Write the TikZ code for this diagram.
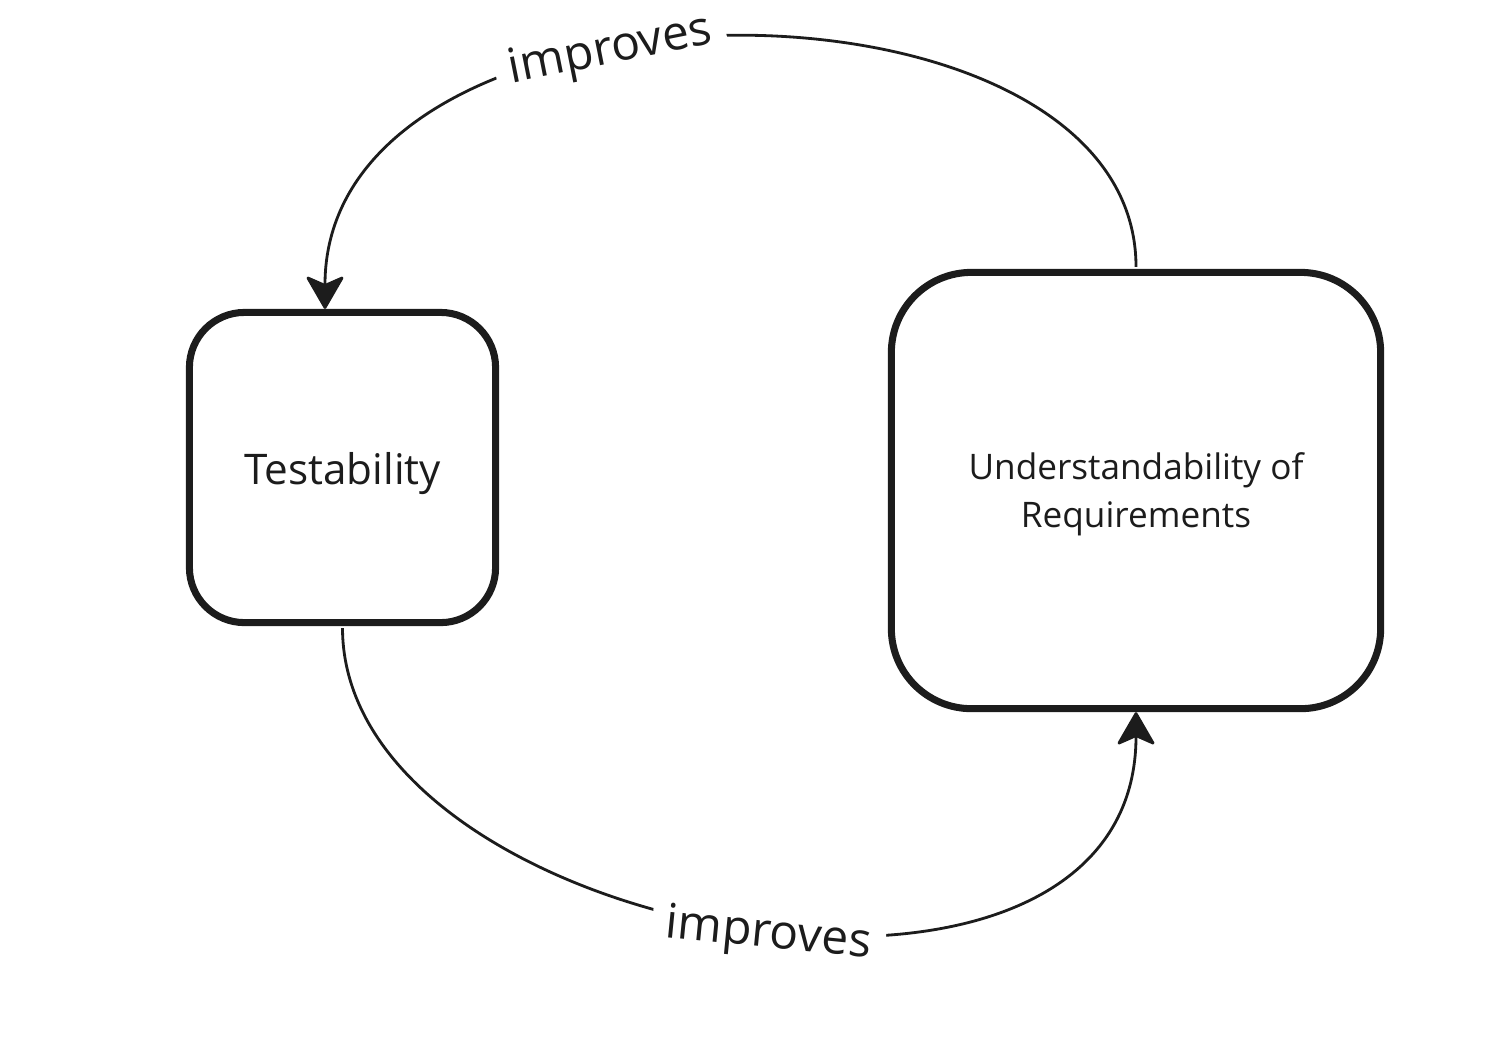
\documentclass[tikz,border=0pt]{standalone}
\usepackage{fontspec}
\setmainfont{Open Sans}
\usepackage{tikz}
\usetikzlibrary{arrows.meta,positioning,calc}
\definecolor{inkBlack}{RGB}{28,28,28}

\begin{document}
\begin{tikzpicture}[x=0.01cm, y=-0.01cm,
    box/.style={draw=inkBlack, line width=2pt, rounded corners=#1, align=center, text=inkBlack},
    link/.style={draw=inkBlack, line width=0.8pt, -{Stealth[length=10pt, width=11.5pt, inset=2.5pt, round]}},
    lbl/.style={sloped, fill=white, inner sep=4pt, text=inkBlack, font=\fontsize{13.6}{16}\selectfont}]
                    \useasboundingbox (0,0) rectangle (1495,1044);
                    \node[box=0.55cm, minimum width=3.06cm, minimum height=3.10cm, font=\fontsize{12}{14}\selectfont] (test) at (342.5,467.5) {\raisebox{-1.6pt}[\height][\depth]{Testability}};
                    \node[box=0.8cm, minimum width=4.89cm, minimum height=4.36cm, font=\fontsize{10}{13.4}\selectfont] (under) at (1136,490.5)
                        {\raisebox{-1pt}[\height][\depth]{\begin{tabular}{@{}c@{}}Understandability of\\Requirements\end{tabular}}};
                    
                    \draw[link] ([yshift=0.02cm]under.north) .. controls (1136,-45) and (325,-45) .. ([xshift=-0.175cm]test.north)
                        node[lbl, pos=0.6] {improves};
                    \draw[link] ([yshift=-0.02cm]test.south) .. controls (343,940) and (1136,1080) .. (under.south)
                        node[lbl, pos=0.525, yshift=-0.07cm] {improves};
                \end{tikzpicture}
\end{document}
